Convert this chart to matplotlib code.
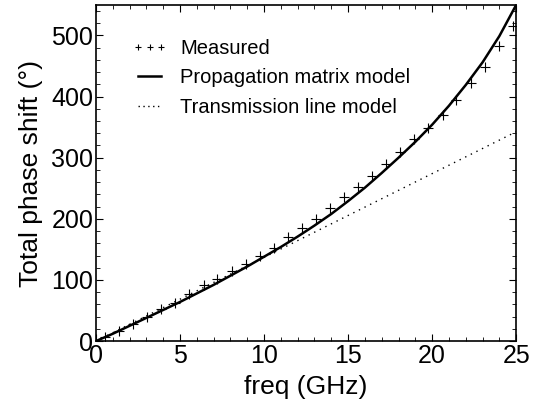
import matplotlib
matplotlib.use("Agg")
import matplotlib.pyplot as plt
from matplotlib.ticker import MultipleLocator

plt.rcParams['font.family'] = ['Liberation Sans', 'DejaVu Sans']

# measured phase shift
freq_meas = [0.54, 1.38, 2.21, 3.05, 3.89, 4.72, 5.56, 6.40, 7.23, 8.07,
             8.91, 9.74, 10.58, 11.42, 12.25, 13.09, 13.93, 14.76, 15.60, 16.43,
             17.27, 18.11, 18.94, 19.78, 20.62, 21.45, 22.29, 23.12, 23.96, 24.80]
phase_meas = [7, 16, 28, 40, 52, 63, 77, 91, 101, 115,
              126, 140, 152, 170, 185, 200, 217, 235, 252, 270,
              290, 310, 330, 349, 370, 394, 423, 449, 482, 515]

# model curves
freq_model = [0, 1, 2, 3, 4, 5, 6, 7, 8, 9, 10, 11, 12, 13,
              14, 15, 16, 17, 18, 19, 20, 21, 22, 23, 24, 25]
phase_prop = [0, 12, 25, 38, 51, 64, 78, 92, 107, 122, 138, 154, 171, 189,
              208, 229, 251, 275, 300, 326, 354, 385, 419, 456, 499, 550]
phase_tline = [0, 13.7, 27.4, 41.1, 54.8, 68.5, 82.2, 95.9, 109.6, 123.3, 137, 150.7, 164.4, 178.1,
               191.8, 205.5, 219.2, 232.9, 246.6, 260.3, 274, 287.7, 301.4, 315.1, 328.8, 342.5]

fig = plt.figure(figsize=(5.36, 4.09), dpi=100)
ax = fig.add_axes([0.179, 0.166, 0.784, 0.822])

ax.plot(freq_meas, phase_meas, 'k+', ms=7.5, mew=0.8, label='Measured')
ax.plot(freq_model, phase_prop, 'k-', lw=1.8, label='Propagation matrix model')
ax.plot(freq_model, phase_tline, color='k', lw=1.0, linestyle=(0, (1, 3.5)),
        label='Transmission line model')

ax.set_xlim(0, 25)
ax.set_ylim(0, 550)
ax.xaxis.set_major_locator(MultipleLocator(5))
ax.xaxis.set_minor_locator(MultipleLocator(1))
ax.yaxis.set_major_locator(MultipleLocator(100))
ax.yaxis.set_minor_locator(MultipleLocator(20))
ax.tick_params(which='both', direction='in', top=True, right=True, labelsize=18, pad=2)
ax.tick_params(which='major', length=5)
ax.tick_params(which='minor', length=3)
for s in ax.spines.values():
    s.set_linewidth(1.2)

ax.set_xlabel('freq (GHz)', fontsize=19, labelpad=5)
ax.set_ylabel('Total phase shift (°)', fontsize=19, labelpad=6)

leg = ax.legend(loc='center left', bbox_to_anchor=(0.043, 0.783), frameon=False, fontsize=14.5,
                numpoints=3, handlelength=1.75, labelspacing=0.52, handletextpad=0.65)
leg.legend_handles[0].set_markersize(5)
leg.legend_handles[2].set_linestyle((0, (1, 2.5)))

fig.savefig('out.png', dpi=100)
